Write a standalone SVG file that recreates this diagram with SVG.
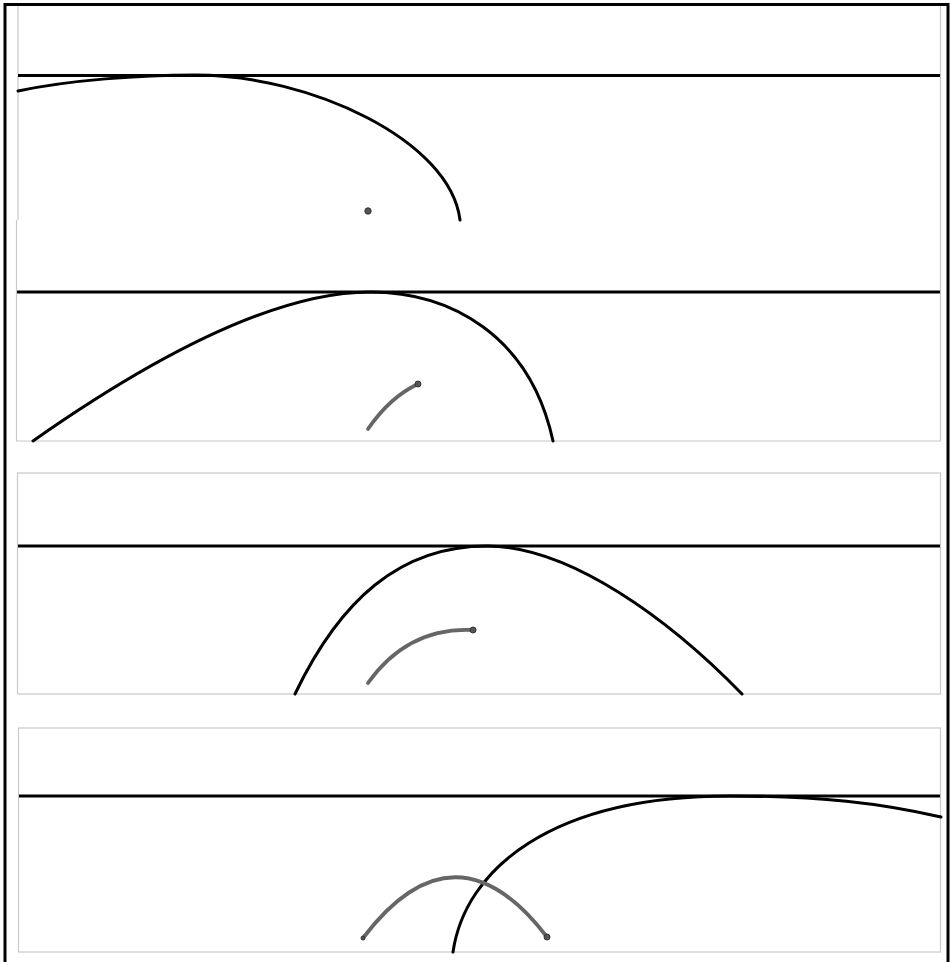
<svg xmlns="http://www.w3.org/2000/svg" width="950" height="962" viewBox="0 0 950 962">
<style>
.frame{fill:none;stroke:#c8c8c8;stroke-width:1.2}
.ground{stroke:#000;stroke-width:3.2;fill:none}
.curve{stroke:#000;stroke-width:3;fill:none;stroke-linecap:round}
.traj{stroke:#666;stroke-width:3.8;fill:none;stroke-linecap:round}
.dot{fill:#555;stroke:#333;stroke-width:1}
</style>
<rect x="0" y="0" width="950" height="962" fill="#fff"/>
<rect x="5" y="4.5" width="943" height="975" fill="none" stroke="#000" stroke-width="3"/>
<g id="panel1">
<path class="frame" d="M18,6 V220 M940.5,6 V220"/>
<line class="ground" x1="18" y1="75.5" x2="940" y2="75.5"/>
<path class="curve" d="M18,91 C70,80 140,75 195,75 C310,75 450,140 460,220"/>
<circle class="dot" cx="368" cy="211" r="3.2"/>
</g>
<g id="panel2">
<path class="frame" d="M16.5,220 V441 H940.5 V220"/>
<line class="ground" x1="17" y1="292" x2="940" y2="292"/>
<path class="curve" d="M33,441 C120,380 260,292 370,292 C450,292 530,335 553,441"/>
<path class="traj" d="M368,429 Q390,397 418,384"/>
<circle class="dot" cx="418" cy="384" r="3"/>
</g>
<g id="panel3">
<rect class="frame" x="17.5" y="473" width="923" height="221"/>
<line class="ground" x1="18" y1="546" x2="940" y2="546"/>
<path class="curve" d="M295,694 C340,600 400,546 487,546 C570,546 670,620 742,694"/>
<path class="traj" d="M368,683 C395,645 430,628 473,630"/>
<circle class="dot" cx="473" cy="630" r="3"/>
</g>
<g id="panel4">
<rect class="frame" x="18.5" y="728" width="922" height="224"/>
<line class="ground" x1="19" y1="796" x2="940" y2="796"/>
<path class="curve" d="M453,952 C465,870 550,796 730,796 C820,796 880,803 941,817"/>
<path class="traj" d="M363,938 Q455,817 547,937"/>
<circle class="dot" cx="363" cy="938" r="2"/>
<circle class="dot" cx="547" cy="937" r="3"/>
</g>
</svg>
